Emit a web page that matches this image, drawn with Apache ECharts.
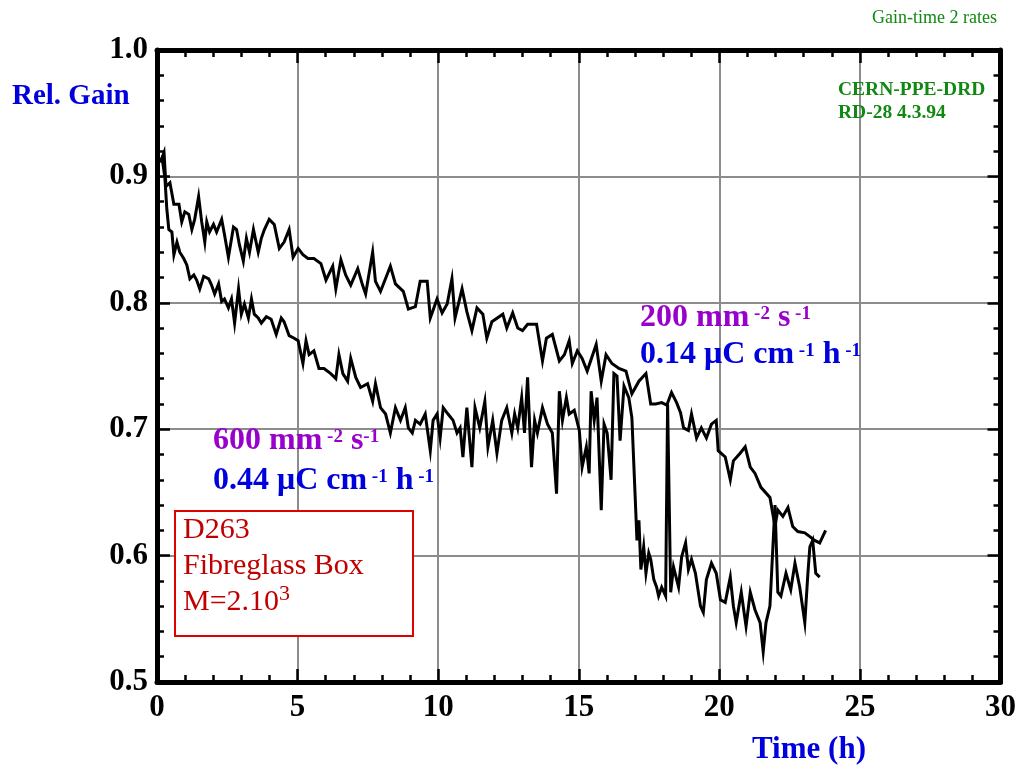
<!DOCTYPE html>
<html><head><meta charset="utf-8">
<script src="https://cdn.jsdelivr.net/npm/echarts@6/dist/echarts.min.js"></script>
<style>html,body{margin:0;padding:0;background:#fff}#c{width:1019px;height:772px}</style>
</head><body><div id="c"></div>
<script>
const xTickValues = [0,5,10,15,20,25,30];
const yTickValues = [0.5,0.6,0.7,0.8,0.9,1.0];
// 200 mm^-2 s^-1 run : [time (h), relative gain]
const rate200 = [[0.11,0.911],[0.25,0.919],[0.32,0.892],[0.46,0.895],[0.60,0.878],[0.78,0.878],[0.88,0.864],[0.99,0.872],[1.13,0.870],[1.24,0.858],[1.34,0.866],[1.48,0.884],[1.59,0.864],[1.70,0.848],[1.77,0.864],[1.87,0.856],[2.01,0.862],[2.12,0.856],[2.30,0.866],[2.40,0.854],[2.54,0.836],[2.72,0.860],[2.83,0.858],[2.93,0.846],[3.07,0.833],[3.18,0.851],[3.29,0.840],[3.43,0.858],[3.60,0.840],[3.71,0.851],[3.82,0.858],[3.99,0.866],[4.17,0.862],[4.35,0.843],[4.52,0.848],[4.70,0.858],[4.84,0.836],[5.02,0.843],[5.19,0.838],[5.37,0.835],[5.58,0.835],[5.83,0.831],[6.01,0.818],[6.25,0.829],[6.36,0.811],[6.54,0.834],[6.71,0.822],[6.89,0.814],[7.14,0.827],[7.31,0.814],[7.42,0.807],[7.67,0.840],[7.77,0.817],[7.95,0.809],[8.30,0.829],[8.48,0.815],[8.76,0.809],[8.94,0.795],[9.19,0.797],[9.36,0.817],[9.61,0.817],[9.72,0.788],[9.96,0.803],[10.14,0.792],[10.32,0.799],[10.49,0.819],[10.60,0.788],[10.85,0.811],[11.02,0.793],[11.20,0.778],[11.38,0.796],[11.59,0.791],[11.73,0.772],[11.91,0.785],[12.30,0.791],[12.44,0.780],[12.65,0.792],[12.83,0.780],[13.00,0.778],[13.18,0.783],[13.50,0.783],[13.71,0.754],[13.85,0.772],[14.06,0.775],[14.31,0.754],[14.49,0.759],[14.66,0.770],[14.77,0.752],[14.95,0.762],[15.12,0.756],[15.30,0.746],[15.62,0.767],[15.80,0.738],[15.97,0.759],[16.18,0.752],[16.43,0.748],[16.68,0.746],[16.89,0.728],[17.14,0.738],[17.39,0.744],[17.56,0.720],[17.74,0.720],[17.95,0.721],[18.13,0.719],[18.30,0.729],[18.48,0.721],[18.62,0.713],[18.73,0.701],[18.90,0.699],[19.01,0.712],[19.19,0.693],[19.36,0.701],[19.54,0.693],[19.72,0.704],[19.89,0.707],[19.96,0.683],[20.21,0.678],[20.39,0.660],[20.50,0.675],[20.74,0.681],[20.92,0.686],[21.10,0.670],[21.27,0.665],[21.48,0.654],[21.80,0.646],[21.98,0.623],[22.08,0.636],[22.26,0.631],[22.44,0.638],[22.61,0.623],[22.79,0.619],[23.04,0.618],[23.22,0.615],[23.39,0.612],[23.57,0.610],[23.78,0.620]];
// 600 mm^-2 s^-1 run : [time (h), relative gain]
const rate600 = [[0.18,0.915],[0.28,0.899],[0.35,0.874],[0.42,0.858],[0.53,0.856],[0.60,0.838],[0.71,0.848],[0.81,0.840],[0.95,0.835],[1.06,0.830],[1.17,0.819],[1.31,0.822],[1.41,0.818],[1.52,0.811],[1.66,0.821],[1.84,0.819],[1.94,0.814],[2.05,0.807],[2.19,0.815],[2.30,0.801],[2.40,0.803],[2.54,0.796],[2.65,0.803],[2.76,0.784],[2.90,0.811],[3.00,0.791],[3.11,0.799],[3.25,0.788],[3.36,0.803],[3.46,0.791],[3.60,0.788],[3.71,0.784],[3.89,0.789],[4.06,0.787],[4.24,0.775],[4.42,0.788],[4.52,0.785],[4.70,0.774],[4.88,0.772],[5.02,0.770],[5.19,0.752],[5.30,0.770],[5.41,0.759],[5.58,0.762],[5.76,0.748],[5.94,0.748],[6.18,0.744],[6.36,0.740],[6.47,0.759],[6.61,0.744],[6.78,0.738],[6.89,0.756],[7.07,0.741],[7.24,0.733],[7.49,0.736],[7.67,0.722],[7.77,0.736],[7.95,0.717],[8.13,0.712],[8.30,0.697],[8.48,0.717],[8.66,0.707],[8.83,0.717],[8.94,0.701],[9.08,0.697],[9.19,0.707],[9.36,0.704],[9.54,0.712],[9.72,0.683],[9.82,0.707],[9.96,0.712],[10.07,0.693],[10.18,0.717],[10.35,0.712],[10.53,0.707],[10.67,0.697],[10.78,0.701],[10.88,0.678],[11.02,0.717],[11.20,0.670],[11.31,0.717],[11.48,0.701],[11.66,0.722],[11.77,0.686],[11.94,0.707],[12.09,0.681],[12.26,0.707],[12.44,0.717],[12.62,0.697],[12.72,0.712],[12.83,0.701],[12.97,0.725],[13.07,0.697],[13.18,0.741],[13.32,0.670],[13.43,0.707],[13.53,0.697],[13.71,0.717],[13.89,0.704],[14.06,0.697],[14.21,0.649],[14.31,0.730],[14.42,0.707],[14.56,0.725],[14.66,0.712],[14.84,0.715],[15.02,0.699],[15.12,0.670],[15.27,0.686],[15.37,0.665],[15.44,0.730],[15.55,0.707],[15.65,0.725],[15.80,0.636],[15.90,0.704],[16.01,0.697],[16.15,0.660],[16.25,0.744],[16.36,0.742],[16.47,0.691],[16.61,0.734],[16.78,0.725],[16.89,0.709],[17.03,0.634],[17.07,0.612],[17.14,0.628],[17.21,0.589],[17.31,0.607],[17.39,0.586],[17.49,0.602],[17.56,0.597],[17.67,0.581],[17.77,0.575],[17.84,0.568],[17.95,0.575],[18.09,0.568],[18.16,0.720],[18.27,0.571],[18.37,0.591],[18.55,0.575],[18.66,0.599],[18.80,0.610],[18.90,0.589],[19.01,0.597],[19.15,0.586],[19.33,0.560],[19.43,0.555],[19.54,0.581],[19.72,0.594],[19.89,0.586],[20.04,0.565],[20.21,0.563],[20.39,0.583],[20.50,0.560],[20.60,0.547],[20.78,0.571],[20.95,0.544],[21.10,0.571],[21.27,0.557],[21.45,0.547],[21.56,0.524],[21.66,0.547],[21.80,0.560],[21.98,0.640],[22.08,0.571],[22.19,0.568],[22.37,0.586],[22.54,0.573],[22.69,0.594],[22.86,0.575],[23.04,0.547],[23.15,0.586],[23.22,0.607],[23.32,0.612],[23.43,0.586],[23.57,0.583]];

const SERIF = '"Liberation Serif","Times New Roman",serif';
const chart = echarts.init(document.getElementById('c'), null, {renderer:'canvas'});

function axisCommon(showLabel, isX) {
  return {
    axisLine:{show:true,onZero:false,lineStyle:{color:'#000',width:5}},
    axisTick:{show:true,inside:true,length:13,lineStyle:{color:'#000',width:2.5}},
    minorTick:{show:true,splitNumber:5,length:7,lineStyle:{color:'#000',width:2.5}},
    axisLabel:{show:showLabel,margin:isX?10:9,fontFamily:SERIF,fontWeight:'bold',fontSize:31,color:'#000',
      formatter: isX ? (v)=> (xTickValues.indexOf(v)>=0 ? String(v) : '') : (v)=> (yTickValues.some(t=>Math.abs(t-v)<1e-6) ? v.toFixed(1) : '')},
    splitLine:{show:showLabel,lineStyle:{color:'#8c8c8c',width:2}}
  };
}

const supStyle = {fontSize:19,fontFamily:SERIF,fontWeight:'bold',padding:[0,0,8,0]};
function richText(text, x, y, color) {
  return {type:'text', z:100, style:{text:text, x:x, y:y, fill:color, fontSize:32, fontFamily:SERIF, fontWeight:'bold',
    verticalAlign:'middle', textVerticalAlign:'middle', rich:{
      n:{fontSize:32,fontFamily:SERIF,fontWeight:'bold',fill:color},
      s:Object.assign({fill:color}, supStyle)
    }}};
}

const option = {
  animation:false,
  backgroundColor:'#fff',
  grid:{left:157,right:12,top:50,bottom:90,containLabel:false},
  xAxis:[
    Object.assign({type:'value',min:0,max:30,interval:5,position:'bottom'}, axisCommon(true,true)),
    Object.assign({type:'value',min:0,max:30,interval:5,position:'top'}, axisCommon(false,true))
  ],
  yAxis:[
    Object.assign({type:'value',min:0.5,max:1.0,interval:0.1,position:'left'}, axisCommon(true,false)),
    Object.assign({type:'value',min:0.5,max:1.0,interval:0.1,position:'right'}, axisCommon(false,false))
  ],
  series:[
    {type:'line',name:'200',xAxisIndex:0,yAxisIndex:0,data:rate200,showSymbol:false,symbol:'none',
      lineStyle:{color:'#000',width:3,join:'miter'},z:5},
    {type:'line',name:'600',xAxisIndex:0,yAxisIndex:0,data:rate600,showSymbol:false,symbol:'none',
      lineStyle:{color:'#000',width:3,join:'miter'},z:5}
  ],
  graphic:[
    {type:'text',z:100,style:{text:'Gain-time 2 rates',x:872,y:18,fill:'#118811',fontSize:18,fontFamily:SERIF,verticalAlign:'middle',textVerticalAlign:'middle'}},
    {type:'text',z:100,style:{text:'Rel. Gain',x:12,y:97,fill:'#0000dd',fontSize:29,fontFamily:SERIF,fontWeight:'bold',verticalAlign:'middle',textVerticalAlign:'middle'}},
    {type:'text',z:100,style:{text:'Time (h)',x:752,y:750,fill:'#0000dd',fontSize:31,fontFamily:SERIF,fontWeight:'bold',verticalAlign:'middle',textVerticalAlign:'middle'}},
    {type:'text',z:100,style:{text:'CERN-PPE-DRD',x:838,y:90,fill:'#118811',fontSize:19.5,fontFamily:SERIF,fontWeight:'bold',verticalAlign:'middle',textVerticalAlign:'middle'}},
    {type:'text',z:100,style:{text:'RD-28 4.3.94',x:838,y:113,fill:'#118811',fontSize:19.5,fontFamily:SERIF,fontWeight:'bold',verticalAlign:'middle',textVerticalAlign:'middle'}},
    richText('{n|200 mm}{s| -2}{n| s}{s| -1}', 640, 318, '#9900cc'),
    richText('{n|0.14 \u03bcC cm}{s| -1}{n| h}{s| -1}', 640, 355, '#0000dd'),
    richText('{n|600 mm}{s| -2}{n| s}{s|-1}', 213, 441, '#9900cc'),
    richText('{n|0.44 \u03bcC cm}{s| -1}{n| h}{s| -1}', 213, 481, '#0000dd'),
    {type:'rect',z:90,shape:{x:175,y:511,width:238,height:125},style:{fill:'#fff',stroke:'#e00000',lineWidth:2}},
    {type:'text',z:100,style:{text:'D263',x:183,y:530,fill:'#c00000',fontSize:30,fontFamily:SERIF,verticalAlign:'middle',textVerticalAlign:'middle'}},
    {type:'text',z:100,style:{text:'Fibreglass Box',x:183,y:566,fill:'#c00000',fontSize:30,fontFamily:SERIF,verticalAlign:'middle',textVerticalAlign:'middle'}},
    {type:'text',z:100,style:{text:'{m|M=2.10}{p|3}',x:183,y:602,fill:'#c00000',fontSize:30,fontFamily:SERIF,verticalAlign:'middle',textVerticalAlign:'middle',
      rich:{m:{fontSize:30,fontFamily:SERIF,fill:'#c00000'},p:{fontSize:22,fontFamily:SERIF,fill:'#c00000',padding:[0,0,16,0]}}}}
  ]
};
chart.setOption(option);
</script>
</body></html>
